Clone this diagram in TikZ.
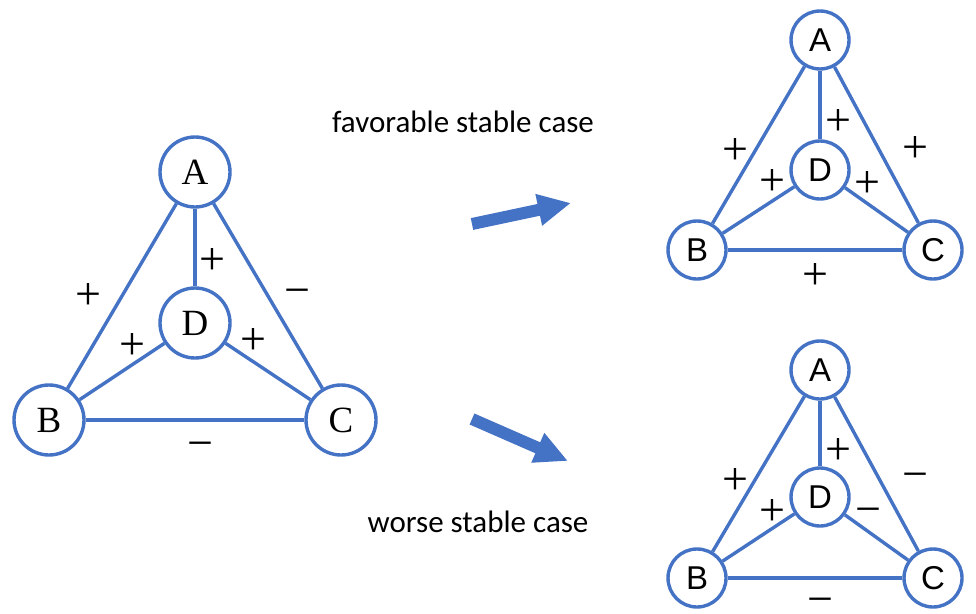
\documentclass[tikz,border=0pt]{standalone}
\usepackage{fontspec}
\setmainfont{Liberation Serif}
\newfontfamily\carl{Carlito}
\newfontfamily\lsans{Liberation Sans}
\usetikzlibrary{arrows.meta}
\definecolor{myblue}{RGB}{68,114,196}
\tikzset{
  vtxL/.style={circle, draw=myblue, line width=3.4pt, fill=white, inner sep=0pt, minimum size=70pt, font=\fontsize{37}{42}\selectfont},
  vtxR/.style={circle, draw=myblue, line width=3.4pt, fill=white, inner sep=0pt, minimum size=58pt, font=\lsans\fontsize{33}{38}\selectfont},
  edge/.style={draw=myblue, line width=3.4pt},
  sgn/.style={inner sep=0pt, text height=24pt, text depth=-7pt, font=\fontsize{46}{50}\selectfont},
  caption/.style={inner sep=0pt, font=\carl\fontsize{31}{36}\selectfont},
  bigarrow/.style={draw=myblue, line width=12pt, -{Triangle[length=33pt, width=30pt]}}
}
\begin{document}
\begin{tikzpicture}[x=1pt,y=-1pt]
\useasboundingbox (0,0) rectangle (976,613);
% left graph
\node[vtxL] (LA) at (195,172) {A};
\node[vtxL] (LD) at (195,323) {D};
\node[vtxL] (LB) at (49,420) {B};
\node[vtxL] (LC) at (341,420) {C};
\draw[edge] (LA) -- (LB);
\draw[edge] (LA) -- (LC);
\draw[edge] (LA) -- (LD);
\draw[edge] (LD) -- (LB);
\draw[edge] (LD) -- (LC);
\draw[edge] (LB) -- (LC);
\node[sgn] (lab) at (88,297) {+};
\node[sgn] (lad) at (212,262) {+};
\node[sgn] (lac) at (297,293) {−};
\node[sgn] (lbd) at (132,347) {+};
\node[sgn] (lcd) at (253,342) {+};
\node[sgn] (lbc) at (200,446) {−};
% top right graph
\node[vtxR] (TA) at (820,40) {A};
\node[vtxR] (TD) at (820,170) {D};
\node[vtxR] (TB) at (697,250) {B};
\node[vtxR] (TC) at (933,250) {C};
\draw[edge] (TA) -- (TB);
\draw[edge] (TA) -- (TC);
\draw[edge] (TA) -- (TD);
\draw[edge] (TD) -- (TB);
\draw[edge] (TD) -- (TC);
\draw[edge] (TB) -- (TC);
\node[sgn] (tab) at (735,152) {+};
\node[sgn] (tad) at (838,123) {+};
\node[sgn] (tac) at (915,150) {+};
\node[sgn] (tbd) at (772,183) {+};
\node[sgn] (tcd) at (867,185) {+};
\node[sgn] (tbc) at (815,277) {+};
% bottom right graph
\node[vtxR] (BA) at (820,370) {A};
\node[vtxR] (BD) at (820,497) {D};
\node[vtxR] (BB) at (697,578) {B};
\node[vtxR] (BC) at (933,578) {C};
\draw[edge] (BA) -- (BB);
\draw[edge] (BA) -- (BC);
\draw[edge] (BA) -- (BD);
\draw[edge] (BD) -- (BB);
\draw[edge] (BD) -- (BC);
\draw[edge] (BB) -- (BC);
\node[sgn] (bab) at (735,482) {+};
\node[sgn] (bad) at (838,452) {+};
\node[sgn] (bac) at (915,477) {−};
\node[sgn] (bbd) at (772,513) {+};
\node[sgn] (bcd) at (868,512) {−};
\node[sgn] (bbc) at (820,602) {−};
% captions
\node[caption] (fav) at (463,122) {favorable stable case};
\node[caption] (wor) at (478,522) {worse stable case};
% arrows
\coordinate (a1s) at (472,224);
\coordinate (a1e) at (571,203);
\coordinate (a2s) at (472,419);
\coordinate (a2e) at (568,461);
\draw[bigarrow] (a1s) -- (a1e);
\draw[bigarrow] (a2s) -- (a2e);
\end{tikzpicture}
\end{document}
